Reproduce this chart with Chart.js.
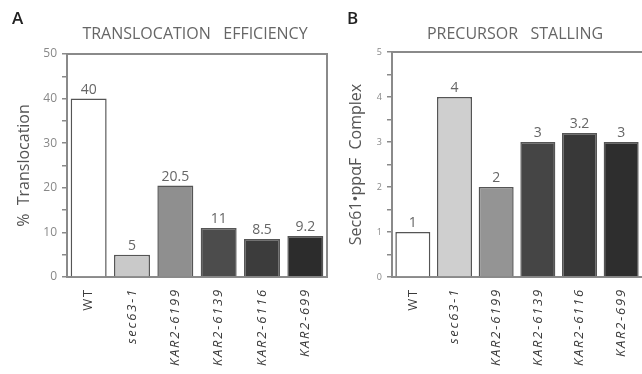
<!DOCTYPE html>
<html>
<head>
<meta charset="utf-8">
<script src="https://cdn.jsdelivr.net/npm/chart.js@4/dist/chart.umd.min.js"></script>
<style>
  html, body { margin: 0; padding: 0; background: #fff; }
  #wrap { position: relative; width: 642px; height: 374px; overflow: hidden; }
  .panel { position: absolute; top: 0; }
  #panelA { left: 0; }
  #panelB { left: 330px; }
</style>
</head>
<body>
<div id="wrap">
  <div class="panel" id="panelA"><canvas id="chartA" width="330" height="374"></canvas></div>
  <div class="panel" id="panelB"><canvas id="chartB" width="312" height="374"></canvas></div>
</div>
<script>
// data
const strains = ['WT', 'sec63-1', 'KAR2-6199', 'KAR2-6139', 'KAR2-6116', 'KAR2-699'];
const translocation = [40, 5, 20.5, 11, 8.5, 9.2];
const stalling = [1, 4, 2, 3, 3.2, 3];
const translocationTicks = [0, 10, 20, 30, 40, 50];
const stallingTicks = [0, 1, 2, 3, 4, 5];

const barColorsA = ['#ffffff', '#c9c9c9', '#8f8f8f', '#4c4c4c', '#3c3c3c', '#2c2c2c'];
const barColorsB = ['#ffffff', '#cfcfcf', '#949494', '#454545', '#383838', '#2e2e2e'];

const FONT = '"Open Sans", sans-serif';
const LINE = '#8a8a8a';
Chart.defaults.font.family = FONT;

// panel letter, title, frame, value labels and rotated strain names
const panelDecor = {
  id: 'panelDecor',
  afterDraw(chart, args, opts) {
    const { ctx, chartArea: a, scales: { x } } = chart;
    ctx.save();

    ctx.strokeStyle = LINE;
    ctx.lineWidth = 2;
    ctx.beginPath();
    ctx.moveTo(a.left, a.top);
    ctx.lineTo(a.right, a.top);
    if (opts.closed) ctx.lineTo(a.right, a.bottom);
    ctx.stroke();

    ctx.fillStyle = '#222';
    ctx.font = '600 17px ' + FONT;
    ctx.textAlign = 'left';
    ctx.textBaseline = 'alphabetic';
    ctx.fillText(opts.letter, opts.letterX, 24);

    ctx.fillStyle = '#666';
    ctx.font = '16px ' + FONT;
    ctx.textAlign = 'center';
    ctx.fillText(opts.title, (a.left + a.right) / 2 - 2, 39);

    const data = chart.data.datasets[0].data;
    ctx.font = '14px ' + FONT;
    ctx.textBaseline = 'bottom';
    chart.getDatasetMeta(0).data.forEach((bar, i) => {
      ctx.fillText(String(data[i]), bar.x, bar.y - 2);
    });

    ctx.letterSpacing = '1.8px';
    ctx.fillStyle = '#3a3a3a';
    ctx.textAlign = 'right';
    ctx.textBaseline = 'middle';
    chart.data.labels.forEach((lab, i) => {
      ctx.save();
      ctx.translate(x.getPixelForValue(i), a.bottom + 11);
      ctx.rotate(-Math.PI / 2);
      ctx.font = (i === 0 ? '' : 'italic ') + '13px ' + FONT;
      ctx.fillText(lab, 0, 0);
      ctx.restore();
    });
    ctx.restore();
  }
};

function makeChart(id, values, colors, tickList, max, step, opts) {
  return new Chart(document.getElementById(id), {
    type: 'bar',
    data: {
      labels: strains,
      datasets: [{
        data: values,
        backgroundColor: colors,
        borderColor: '#555',
        borderWidth: 1.5,
        barPercentage: opts.barPct,
        categoryPercentage: 1
      }]
    },
    options: {
      responsive: false,
      animation: false,
      layout: { padding: { top: opts.top, right: opts.right, left: 0, bottom: 0 } },
      plugins: {
        legend: { display: false },
        tooltip: { enabled: false },
        panelDecor: opts.decor
      },
      scales: {
        x: {
          afterFit(s) { s.height = 374 - opts.bottom; },
          ticks: { display: false },
          grid: { display: false },
          border: { color: LINE, width: 2 }
        },
        y: {
          min: 0,
          max: max,
          afterFit(s) { s.width = opts.axisX; },
          ticks: {
            stepSize: step,
            callback: v => tickList.includes(v) ? v : '',
            color: '#888',
            font: { size: opts.tickSize },
            padding: 5
          },
          grid: { drawOnChartArea: false, tickLength: 5, color: LINE, lineWidth: 1.5 },
          border: { color: LINE, width: 2 },
          title: {
            display: true,
            text: opts.yTitle,
            color: '#555',
            font: { size: 16 },
            padding: { top: opts.titlePad, bottom: 0 }
          }
        }
      }
    },
    plugins: [panelDecor]
  });
}

makeChart('chartA', translocation, barColorsA, translocationTicks, 50, 5, {
  top: 54, right: 3, bottom: 277, axisX: 67, tickSize: 12, titlePad: 15,
  barPct: 0.83, yTitle: '%  Translocation',
  decor: { letter: 'A', letterX: 12, title: 'TRANSLOCATION   EFFICIENCY', closed: true }
});

makeChart('chartB', stalling, barColorsB, stallingTicks, 5, 0.5, {
  top: 52, right: 0, bottom: 277, axisX: 62, tickSize: 9, titlePad: 17,
  barPct: 0.84, yTitle: 'Sec61\u2022pp\u03B1F  Complex',
  decor: { letter: 'B', letterX: 17, title: 'PRECURSOR   STALLING', closed: false }
});
</script>
</body>
</html>
